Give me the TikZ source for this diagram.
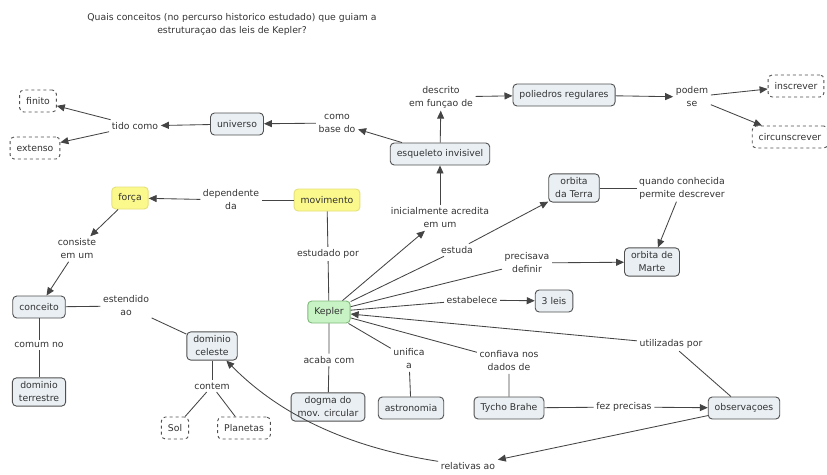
\documentclass[tikz,border=0pt]{standalone}
\usepackage{fontspec}
\setmainfont{DejaVu Sans}
\usetikzlibrary{arrows.meta}
\definecolor{ink}{HTML}{333333}
\definecolor{edge}{HTML}{444444}
\definecolor{boxfill}{HTML}{E9EFF3}
\definecolor{boxline}{HTML}{505050}
\definecolor{yel}{HTML}{FBF98C}
\definecolor{yelline}{HTML}{E5E07A}
\definecolor{grn}{HTML}{C8F3C4}
\definecolor{grnline}{HTML}{7FB87A}
\tikzset{
  every node/.style={font=\fontsize{9.3}{13}\selectfont, text=ink, align=center},
  concept/.style={draw=boxline, fill=boxfill, rounded corners=4pt, line width=0.9pt,
    inner xsep=6.5pt, inner ysep=4pt, minimum height=22pt},
  hint/.style={concept, dashed, fill=white, draw=boxline},
  yelbox/.style={concept, fill=yel, draw=yelline},
  grnbox/.style={concept, fill=grn, draw=grnline},
  linkword/.style={inner sep=2.5pt},
  link/.style={draw=edge, line width=0.85pt},
  arr/.style={link, -{Triangle[length=8pt,width=7pt]}},
}
\begin{document}
\begin{tikzpicture}[x=1pt, y=-1pt]
\useasboundingbox (0,0) rectangle (827,474);

% title
\node (title) at (232,24) {Quais conceitos (no percurso historico estudado) que guiam a\\estruturaçao das leis de Kepler?};

% concepts
\node[hint] (finito) at (38,101) {finito};
\node[hint] (extenso) at (35,148) {extenso};
\node[concept] (universo) at (237,124) {universo};
\node[concept] (esq) at (440,154) {esqueleto invisivel};
\node[concept] (poli) at (564,95) {poliedros regulares};
\node[hint] (inscrever) at (796,86) {inscrever};
\node[hint] (circ) at (790,137) {circunscrever};
\node[yelbox] (forca) at (130,198) {força};
\node[yelbox] (movimento) at (327,200) {movimento};
\node[concept] (terra) at (574,188) {orbita\\da Terra};
\node[concept] (marte) at (652,262) {orbita de\\Marte};
\node[concept] (leis) at (554,301) {3 leis};
\node[concept] (conceito) at (39,307) {conceito};
\node[grnbox] (kepler) at (329,312) {Kepler};
\node[concept] (dc) at (212,346) {dominio\\celeste};
\node[concept] (dterr) at (39,392) {dominio\\terrestre};
\node[concept] (dogma) at (328,407) {dogma do\\mov. circular};
\node[concept] (astro) at (411,408) {astronomia};
\node[concept] (tycho) at (509,408) {Tycho Brahe};
\node[concept] (obs) at (744,408) {observaçoes};
\node[hint] (sol) at (175,428) {Sol};
\node[hint] (planetas) at (244,428) {Planetas};

% linking phrases
\node[linkword] (tido) at (135,126) {tido como};
\node[linkword] (comobase) at (337,123) {como\\base do};
\node[linkword] (descrito) at (441,97) {descrito\\em funçao de};
\node[linkword] (podem) at (692,97) {podem\\se};
\node[linkword] (dependente) at (231,200) {dependente\\da};
\node[linkword] (inicial) at (440,218) {inicialmente acredita\\em um};
\node[linkword] (quando) at (682,188) {quando conhecida\\permite descrever};
\node[linkword] (estuda) at (457,250) {estuda};
\node[linkword] (precisava) at (527,263) {precisava\\definir};
\node[linkword] (estabelece) at (472,300) {estabelece};
\node[linkword] (consiste) at (77,249) {consiste\\em um};
\node[linkword] (estudado) at (328,254) {estudado por};
\node[linkword] (estendido) at (126,306) {estendido\\ao};
\node[linkword] (comum) at (39,345) {comum no};
\node[linkword] (acaba) at (329,360) {acaba com};
\node[linkword] (unifica) at (409,359) {unifica\\a};
\node[linkword] (confiava) at (509,361) {confiava nos\\dados de};
\node[linkword] (utilizadas) at (671,344) {utilizadas por};
\node[linkword] (contem) at (212,386) {contem};
\node[linkword] (fez) at (624,407) {fez precisas};
\node[linkword] (relativas) at (468,466) {relativas ao};

% connectors
\draw[arr] (tido) -- (finito);
\draw[arr] (tido) -- (extenso);
\draw[arr] (universo) -- (tido);
\draw[arr] (comobase) -- (universo);
\draw[arr] (esq) -- (comobase);
\draw[arr] (esq) -- (descrito);
\draw[arr] (descrito) -- (poli);
\draw[arr] (poli) -- (podem);
\draw[arr] (podem) -- (inscrever);
\draw[arr] (podem) -- (circ);

\draw[link] (movimento) -- (dependente);
\draw[arr] (dependente) -- (forca);
\draw[arr] (forca) -- (consiste);
\draw[arr] (consiste) -- (conceito);
\draw[link] (movimento) -- (estudado) -- (kepler);

\draw[arr] (kepler) -- (inicial);
\draw[arr] (inicial) -- (esq);
\draw[link] (kepler) -- (estuda);
\draw[arr] (estuda) -- (terra);
\draw[link] (kepler) -- (precisava);
\draw[arr] (precisava) -- (marte);
\draw[link] (kepler) -- (estabelece);
\draw[arr] (estabelece) -- (leis);
\draw[link] (terra) -- (quando);
\draw[arr] (quando) -- (marte);
\draw[link] (obs) -- (utilizadas);
\draw[arr] (utilizadas) -- (kepler);
\draw[link] (kepler) -- (confiava) -- (tycho);
\draw[link] (kepler) -- (unifica) -- (astro);
\draw[link] (kepler) -- (acaba) -- (dogma);
\draw[link] (tycho) -- (fez);
\draw[arr] (fez) -- (obs);
\draw[arr] (obs) -- (relativas);
\draw[arr] (relativas) .. controls (340,446) and (275,410) .. (dc);

\draw[link] (conceito) -- (estendido) -- (dc);
\draw[link] (conceito) -- (comum) -- (dterr);
\draw[link] (dc) -- (contem);
\draw[link] (contem) -- (sol);
\draw[link] (contem) -- (planetas);
\end{tikzpicture}
\end{document}
